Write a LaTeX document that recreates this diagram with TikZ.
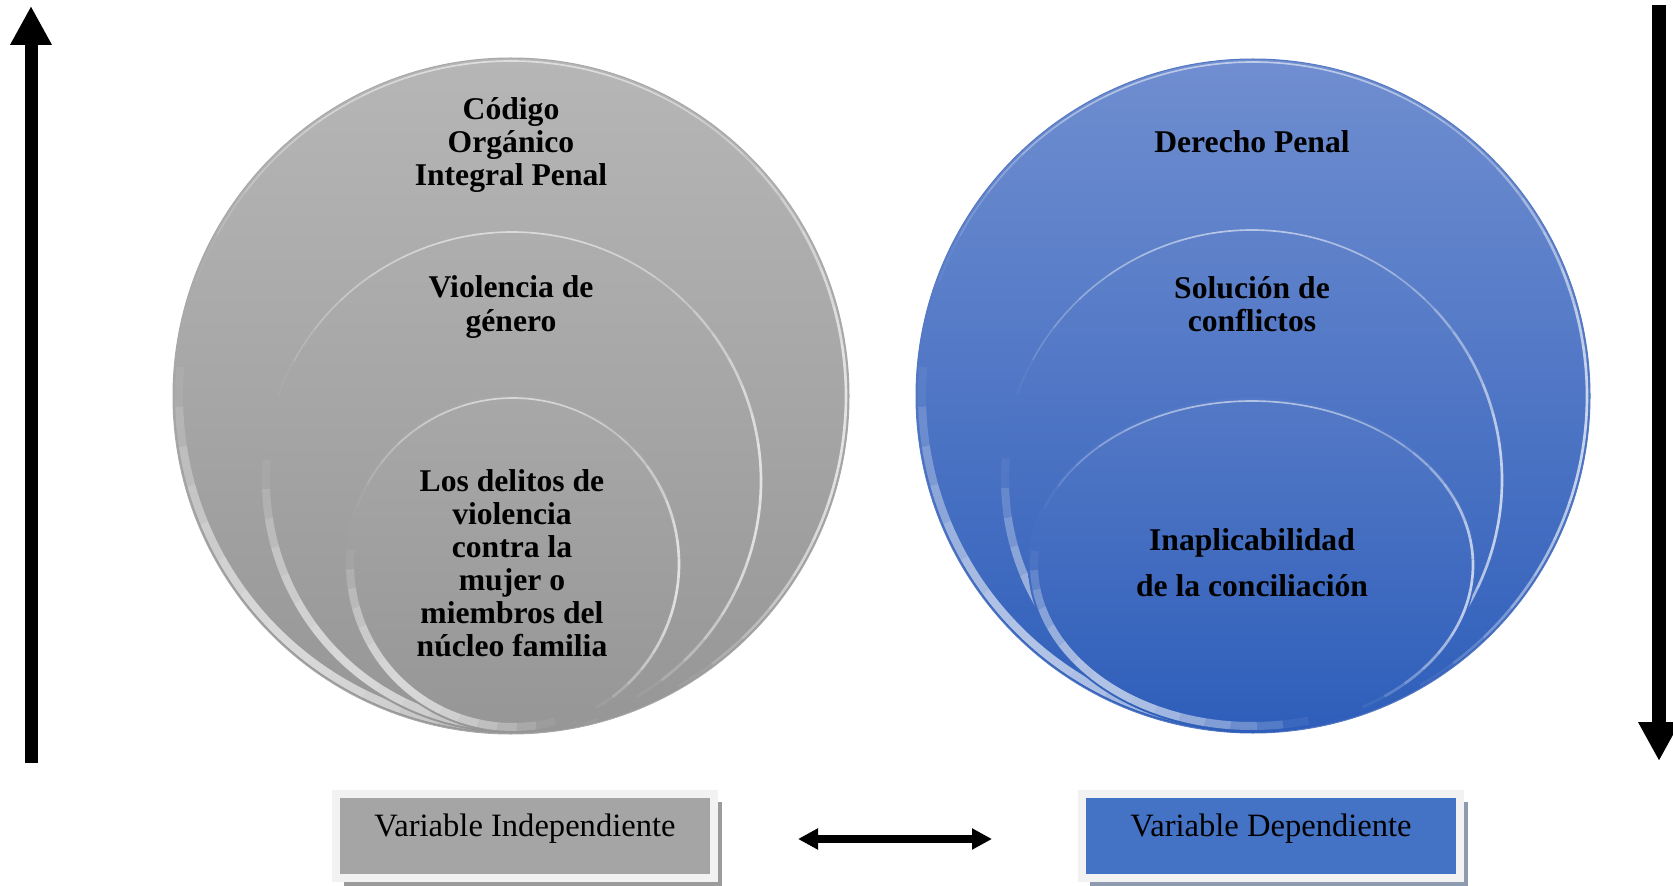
\documentclass[tikz,border=0pt]{standalone}
\usepackage{fontspec}
\setmainfont{Liberation Serif}
\usetikzlibrary{positioning,arrows.meta,shadows}
\tikzstyle{canvas} = [x = 0.3mm, y = -0.3mm]
\definecolor{grayTop}{RGB}{182,182,182}
\definecolor{grayMid}{RGB}{174,174,174}
\definecolor{grayLow}{RGB}{168,168,168}
\definecolor{grayBottom}{RGB}{150,150,150}
\definecolor{grayRim}{RGB}{168,168,168}
\definecolor{blueTop}{RGB}{112,142,208}
\definecolor{blueMid}{RGB}{96,130,202}
\definecolor{blueLow}{RGB}{84,121,198}
\definecolor{blueBottom}{RGB}{46,94,186}
\definecolor{blueRim}{RGB}{85,120,195}
\definecolor{boxGray}{RGB}{165,165,165}
\definecolor{boxBlue}{RGB}{68,114,196}
\definecolor{frameColor}{RGB}{242,242,242}
\definecolor{shadowGray}{RGB}{155,155,155}
\definecolor{shadowBlue}{RGB}{142,154,176}
\tikzstyle{circleText} = [font=\fontsize{27}{28.2}\selectfont\bfseries, align=center]
\tikzstyle{variableBox} = [draw=frameColor, line width=2.4mm, minimum width=378*0.3mm, minimum height=84*0.3mm,
  font=\fontsize{27.8}{30}\selectfont, text height=12pt, text depth=12pt]
\tikzstyle{bigArrow} = [line width=3.9mm, -{Triangle[length=11.7mm, width=11.7mm]}]
\tikzstyle{linkArrow} = [line width=2.3mm, {Triangle[length=6mm, width=6mm]}-{Triangle[length=6mm, width=6mm]}]
% arco de brillo que se desvanece en los extremos
\newcommand{\glossArc}[8]{
  \foreach \k in {0,...,15} {
    \pgfmathsetmacro{\fromAngle}{-(#5 + (#6 - #5) * \k / 16)}
    \pgfmathsetmacro{\toAngle}{-(#5 + (#6 - #5) * (\k + 1) / 16)}
    \pgfmathsetmacro{\fadeOpacity}{#8 * sin(180 * (\k + 0.5) / 16)}
    \pgfmathsetmacro{\fromX}{#1 + #3 * cos(\fromAngle)}
    \pgfmathsetmacro{\fromY}{#2 + #4 * sin(\fromAngle)}
    \draw [color=white, line width=#7, opacity=\fadeOpacity] (\fromX, \fromY) arc [start angle=\fromAngle, end angle=\toAngle, x radius=#3, y radius=#4];
  }
}
\newcommand{\glossyDisc}[6]{
  \pgfmathsetmacro{\edgeX}{#3 - 3}
  \pgfmathsetmacro{\edgeY}{#4 - 3}
  \pgfmathsetmacro{\bandX}{#3 - 6}
  \pgfmathsetmacro{\bandY}{#4 - 6}
  \shade [top color=#5, bottom color=#6] (#1, #2) ellipse [x radius=#3, y radius=#4];
  \glossArc{#1}{#2}{\edgeX}{\edgeY}{160}{20}{.5mm}{.55}
  \glossArc{#1}{#2}{\edgeX}{\edgeY}{50}{-60}{.8mm}{.7}
  \glossArc{#1}{#2}{\bandX}{\bandY}{175}{285}{2.4mm}{.62}
}

\begin{document}
\begin{tikzpicture}[canvas]
  \useasboundingbox (0, 0) rectangle (1673, 886);

  % variable independiente
  \glossyDisc{511}{396}{338}{338}{grayTop}{grayBottom}
  \draw [grayRim, line width=.3mm] (511, 396) circle [radius=338];
  \glossyDisc{512}{481}{252}{252}{grayMid}{grayBottom}
  \glossyDisc{513}{564}{169}{169}{grayLow}{grayBottom}
  \node [circleText] (codigo) at (511, 145) {Código\\Orgánico\\Integral Penal};
  \node [circleText] (violencia) at (511, 307) {Violencia de\\género};
  \node [circleText] (delitos) at (512, 563) {Los delitos de\\violencia\\contra la\\mujer o\\miembros del\\núcleo familia};

  % variable dependiente
  \glossyDisc{1253}{396}{337}{337}{blueTop}{blueBottom}
  \draw [blueRim, line width=.3mm] (1253, 396) circle [radius=337];
  \glossyDisc{1252}{480}{253}{253}{blueMid}{blueBottom}
  \glossyDisc{1252}{565}{224}{167}{blueLow}{blueBottom}
  \node [circleText] (derecho) at (1252, 142) {Derecho Penal};
  \node [circleText] (solucion) at (1252, 304) {Solución de\\conflictos};
  \node [circleText] (inaplicabilidad) at (1252, 563) {Inaplicabilidad\\[11pt]de la conciliación};

  % cuadros
  \node [variableBox, fill=boxGray, drop shadow={shadow xshift=2.4mm, shadow yshift=-2.4mm, fill=shadowGray, opacity=1}]
    (independiente) at (525, 836) {Variable Independiente};
  \node [variableBox, fill=boxBlue, drop shadow={shadow xshift=2.4mm, shadow yshift=-2.4mm, fill=shadowBlue, opacity=1}]
    (dependiente) at (1271, 836) {Variable Dependiente};
  \draw [linkArrow, shorten <=24mm, shorten >=25.8mm] ([yshift=-0.9mm]independiente.east) -- ([yshift=-0.9mm]dependiente.west);

  % flechas
  \coordinate (riseStart) at (31, 763);
  \coordinate (riseEnd) at (31, 6);
  \draw [bigArrow] (riseStart) -- (riseEnd);
  \coordinate (fallStart) at (1659, 5);
  \coordinate (fallEnd) at (1659, 761);
  \draw [bigArrow, line width=4.2mm] (fallStart) -- (fallEnd);
\end{tikzpicture}
\end{document}
